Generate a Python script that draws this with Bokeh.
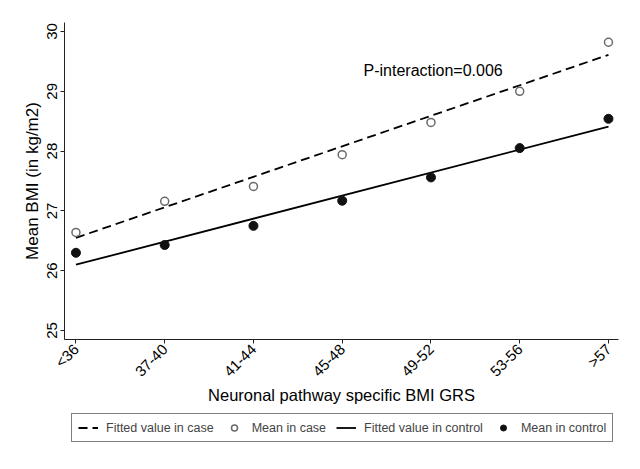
import math
from bokeh.plotting import figure
from bokeh.layouts import column
from bokeh.models import Range1d, FixedTicker, Legend, LegendItem, Label
from bokeh.embed import file_html
from bokeh.resources import INLINE

# ---- data ----
categories = ["<36", "37-40", "41-44", "45-48", "49-52", "53-56", ">57"]
mean_case = [26.64, 27.16, 27.41, 27.94, 28.48, 29.00, 29.82]
mean_control = [26.30, 26.43, 26.75, 27.17, 27.56, 28.05, 28.54]
# fitted (linear) values at the first and last category
fit_case_ends = [26.55, 29.61]
fit_control_ends = [26.10, 28.41]
y_ticks = [25, 26, 27, 28, 29, 30]
p_text = "P-interaction=0.006"
legend_labels = ["Fitted value in case", "Mean in case",
                 "Fitted value in control", "Mean in control"]

FONT = "Liberation Sans"

idx = list(range(len(categories)))
fit_x = [idx[0], idx[-1]]

p = figure(width=624, height=408, frame_width=554, frame_height=317,
           output_backend="svg", toolbar_location=None,
           x_range=Range1d(-0.129, 6.113), y_range=Range1d(24.85, 30.15),
           min_border_left=64, min_border_right=6, min_border_top=22,
           min_border_bottom=0)
p.grid.visible = False
p.outline_line_color = None
p.background_fill_color = "white"
p.border_fill_color = "white"

# axes
p.xaxis.ticker = FixedTicker(ticks=idx)
p.xaxis.major_label_overrides = {i: c for i, c in zip(idx, categories)}
p.xaxis.major_label_orientation = math.pi / 4
p.yaxis.ticker = FixedTicker(ticks=y_ticks)
p.yaxis.major_label_orientation = "vertical"
for ax in (p.xaxis[0], p.yaxis[0]):
    ax.minor_tick_line_color = None
    ax.major_tick_in = 0
    ax.major_tick_out = 4
    ax.axis_line_color = "#222222"
    ax.major_tick_line_color = "#222222"
    ax.major_label_text_font = FONT
    ax.major_label_text_font_size = "15px"
    ax.major_label_text_color = "black"
    ax.major_label_standoff = 3
    ax.axis_label_text_font = FONT
    ax.axis_label_text_font_size = "16.5px"
    ax.axis_label_text_font_style = "normal"
    ax.axis_label_text_color = "black"
p.xaxis.axis_label = "Neuronal pathway specific BMI GRS"
p.yaxis.axis_label = "Mean BMI (in kg/m2)"
p.yaxis.axis_label_text_font_size = "17px"
p.xaxis.axis_label_standoff = -3
p.yaxis.axis_label_standoff = 3

# glyph styles
case_line = dict(line_dash="9 5", line_width=1.8, line_color="black")
case_mark = dict(size=8, fill_color="white", line_color="#6a6a6a", line_width=1.5)
ctrl_line = dict(line_width=1.8, line_color="black")
ctrl_mark = dict(size=9, fill_color="#111111", line_color="#111111")

p.line(fit_x, fit_case_ends, **case_line)
p.scatter(idx, mean_case, **case_mark)
p.line(fit_x, fit_control_ends, **ctrl_line)
p.scatter(idx, mean_control, **ctrl_mark)

p.add_layout(Label(x=3.24, y=29.34, text=p_text, text_baseline="middle",
                   text_font=FONT, text_font_size="16px", text_color="black"))

# legend strip below the chart (its renderers use the same data, but lie
# outside this strip's ranges, so only the legend samples are seen)
q = figure(width=624, height=45, output_backend="svg", toolbar_location=None,
           x_axis_type=None, y_axis_type=None, min_border=0,
           x_range=Range1d(0, 1), y_range=Range1d(0, 1))
q.grid.visible = False
q.outline_line_color = None
q.background_fill_color = "white"
q.border_fill_color = "white"
lr1 = q.line(fit_x, fit_case_ends, **case_line)
lr2 = q.scatter(idx, mean_case, **case_mark)
lr3 = q.line(fit_x, fit_control_ends, **ctrl_line)
lr4 = q.scatter(idx, mean_control, **ctrl_mark)

legend = Legend(items=[LegendItem(label=lab, renderers=[r]) for lab, r in
                       zip(legend_labels, [lr1, lr2, lr3, lr4])],
                orientation="horizontal", location=(7, 9))
legend.label_text_font = FONT
legend.label_text_font_size = "12.5px"
legend.label_height = 15
legend.glyph_height = 15
legend.glyph_width = 20
legend.label_standoff = 8
legend.spacing = 10
legend.padding = 6
legend.margin = 0
legend.border_line_color = "black"
legend.border_line_width = 1
legend.background_fill_color = "white"
legend.background_fill_alpha = 1
q.add_layout(legend)

layout = column(p, q, spacing=0)
open("out.html", "w").write(file_html(layout, INLINE))
